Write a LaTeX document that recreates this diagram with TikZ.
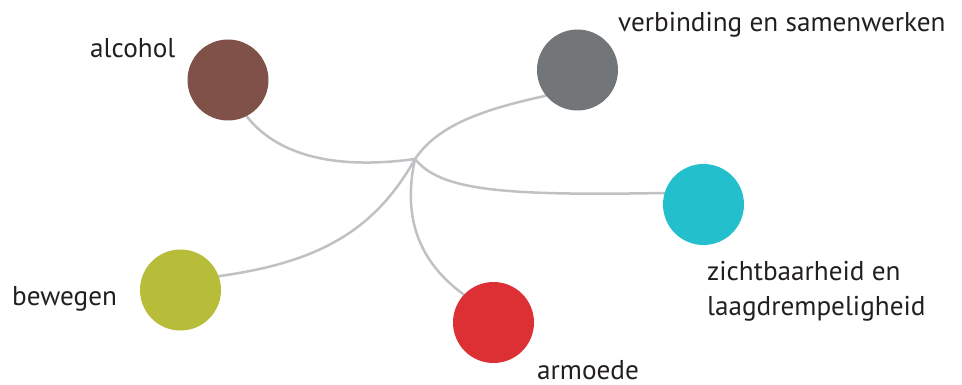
\documentclass[tikz,border=0pt]{standalone}
\usepackage{fontspec}
\setmainfont{PT Sans}
\usetikzlibrary{backgrounds}
\definecolor{cbrown}{HTML}{7F5148}
\definecolor{cgray}{HTML}{737679}
\definecolor{ccyan}{HTML}{23BFCC}
\definecolor{cred}{HTML}{DC3035}
\definecolor{colive}{HTML}{B7BC39}
\definecolor{cline}{HTML}{C0C1C4}
\definecolor{ctext}{HTML}{231F20}
\tikzset{
  dot/.style={circle,minimum size=81pt,inner sep=0pt,draw=none},
  lab/.style={anchor=base west,inner sep=0pt,text=ctext,font=\fontsize{27.2}{35}\selectfont,align=left},
  link/.style={draw=cline,line width=2.5pt}
}
\begin{document}
\begin{tikzpicture}[x=1pt,y=-1pt]
\useasboundingbox (0,0) rectangle (962,385);
\coordinate (hub) at (415,159);
\node[dot,fill=cbrown] (alc) at (228,80) {};
\node[dot,fill=cgray] (ver) at (577.5,70) {};
\node[dot,fill=ccyan] (zic) at (703.5,204.5) {};
\node[dot,fill=cred] (arm) at (493.5,322.5) {};
\node[dot,fill=colive] (bew) at (180.5,290) {};
\begin{scope}[on background layer]
\draw[link] (alc.center) .. controls (250,150) and (320,172) .. (hub);
\draw[link] (hub) .. controls (435,130) and (470,112) .. (545,96) -- (ver.center);
\draw[link] (hub) .. controls (440,190) and (500,196) .. (663,193) -- (zic.center);
\draw[link] (bew.center) -- (220,276) .. controls (320,262) and (375,230) .. (hub);
\draw[link] (hub) .. controls (405,205) and (410,255) .. (463,294) -- (arm.center);
\end{scope}
\node[lab] (lalc) at (90,58) {alcohol};
\node[lab] (lver) at (618,32) {verbinding en samenwerken};
\node[lab] (lzic) at (707,315) {zichtbaarheid en\\laagdrempeligheid};
\node[lab] (lbew) at (12,305) {bewegen};
\node[lab] (larm) at (537,379) {armoede};
\end{tikzpicture}
\end{document}
